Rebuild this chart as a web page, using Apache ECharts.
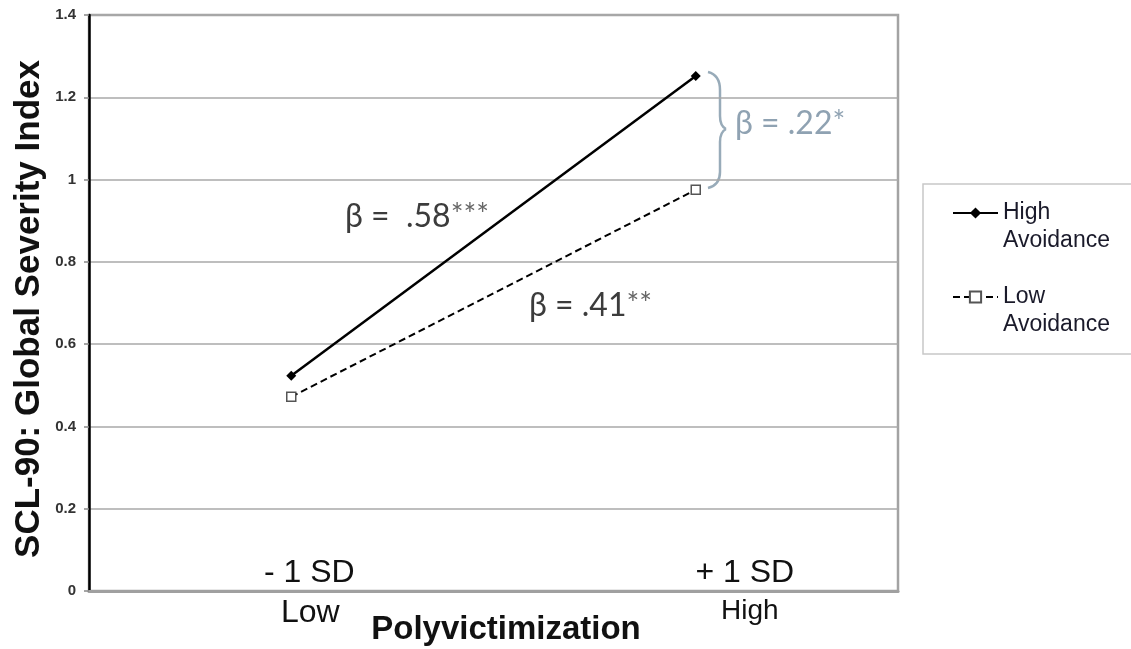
<!DOCTYPE html>
<html>
<head>
<meta charset="utf-8">
<script src="https://cdn.jsdelivr.net/npm/echarts@6/dist/echarts.min.js"></script>
<style>
html, body { margin: 0; padding: 0; background: #fff; }
#chart { width: 1131px; height: 649px; }
</style>
</head>
<body>
<div id="chart"></div>
<script>
// data
const levels = ['Low', 'High'];
const sdLabels = ['- 1 SD', '+ 1 SD'];
const highAvoidance = [0.523, 1.252];
const lowAvoidance = [0.472, 0.975];
const seriesNames = ['High Avoidance', 'Low Avoidance'];
const slopeTexts = ['.58', '.41', '.22'];
const slopeStars = ['***', '**', '*'];

const chart = echarts.init(document.getElementById('chart'));
const font = '"Liberation Sans", Arial, sans-serif';
const betaFont = 'Lato, "Open Sans", sans-serif';
const braceStyle = {fill: null, stroke: '#98abb9', lineWidth: 2.5};

function betaText(left, top, i, color, starColor) {
    return {
        type: 'text',
        left: left,
        top: top,
        style: {
            text: `{b|β = ${i === 0 ? ' ' : ''}${slopeTexts[i]}}{s|${slopeStars[i]}}`,
            rich: {
                b: {fontFamily: betaFont, fontSize: 32, fill: color},
                s: {fontFamily: betaFont, fontSize: 30, fill: starColor, padding: [0, 0, 4, 0]},
            },
        },
    };
}

chart.setOption({
    animation: false,
    grid: {
        left: 89,
        right: 233,
        top: 15,
        bottom: 58,
        outerBoundsMode: 'none',
        show: true,
        borderColor: '#a3a3a3',
        borderWidth: 2.5,
    },
    legend: {
        data: seriesNames,
        orient: 'vertical',
        left: 952,
        top: 171,
        padding: 0,
        itemGap: 0,
        itemWidth: 45,
        itemHeight: 14,
        selectedMode: false,
        // blank first line so the marker sits beside the first word
        formatter: (name) => '\u00a0\n' + name.replace(' ', '\n'),
        textStyle: {
            fontFamily: font,
            fontSize: 23,
            lineHeight: 28,
            color: '#1a1a2a',
        },
    },
    xAxis: [
        {
            type: 'category',
            data: levels,
            position: 'bottom',
            axisLine: {lineStyle: {color: '#a0a0a0', width: 3}},
            axisTick: {show: false},
            axisLabel: {
                margin: 6,
                formatter: (v, i) => `{c${i}|${v}}`,
                rich: {
                    c0: {fontFamily: font, fontSize: 32, color: '#111', padding: [0, 0, 0, 38]},
                    c1: {fontFamily: font, fontSize: 28, color: '#111', padding: [0, 0, 8, 108]},
                },
            },
            name: 'Polyvictimization',
            nameLocation: 'middle',
            nameGap: 22,
            nameMoveOverlap: false,
            nameTextStyle: {
                fontFamily: font,
                fontSize: 33,
                fontWeight: 'bold',
                color: '#111',
                padding: [0, 0, 0, 25],
            },
        },
        {
            type: 'category',
            data: sdLabels,
            position: 'bottom',
            axisLine: {show: false},
            axisTick: {show: false},
            axisLabel: {
                inside: true,
                margin: 2,
                formatter: (v, i) => `{s${i}|${v}}`,
                rich: {
                    s0: {fontFamily: font, fontSize: 32, color: '#111', padding: [0, 0, 0, 36]},
                    s1: {fontFamily: font, fontSize: 32, color: '#111', padding: [0, 0, 0, 98]},
                },
            },
        },
    ],
    yAxis: {
        type: 'value',
        min: 0,
        max: 1.4,
        interval: 0.2,
        axisLine: {show: true, lineStyle: {color: '#000', width: 2.5}},
        axisTick: {show: true, length: 5, lineStyle: {color: '#888', width: 1.5}},
        axisLabel: {
            fontFamily: font,
            fontSize: 15,
            fontWeight: 'bold',
            color: '#333',
            margin: 13,
        },
        splitLine: {lineStyle: {color: '#a8a8a8', width: 1.5}},
        name: 'SCL-90: Global Severity Index',
        nameLocation: 'middle',
        nameGap: 42,
        nameMoveOverlap: false,
        nameTextStyle: {
            fontFamily: font,
            fontSize: 35,
            fontWeight: 'bold',
            color: '#111',
            padding: [0, 12, 0, 0],
        },
    },
    series: [
        {
            name: seriesNames[0],
            type: 'line',
            data: highAvoidance,
            symbol: 'diamond',
            symbolSize: 10,
            itemStyle: {color: '#000'},
            lineStyle: {color: '#000', width: 2.5},
        },
        {
            name: seriesNames[1],
            type: 'line',
            data: lowAvoidance,
            symbol: 'rect',
            symbolSize: 9,
            itemStyle: {color: '#fff', borderColor: '#555', borderWidth: 1.5},
            lineStyle: {color: '#000', width: 2, type: [7, 4]},
            z: 1,
        },
    ],
    graphic: [
        // legend frame
        {
            type: 'rect',
            shape: {x: 923, y: 184, width: 220, height: 170},
            style: {fill: null, stroke: '#c8c8c8', lineWidth: 1.5},
        },
        betaText(345, 200, 0, '#3c3c3c', '#666'),
        betaText(529, 289, 1, '#3c3c3c', '#666'),
        betaText(735, 107, 2, '#8fa2b2', '#8fa2b2'),
        // curly brace between the two +1 SD points
        {type: 'bezierCurve', shape: {x1: 708, y1: 72, cpx1: 716, cpy1: 74, cpx2: 720, cpy2: 80, x2: 720, y2: 90}, style: braceStyle},
        {type: 'line', shape: {x1: 720, y1: 90, x2: 720, y2: 116}, style: braceStyle},
        {type: 'bezierCurve', shape: {x1: 720, y1: 116, cpx1: 720, cpy1: 123, cpx2: 722, cpy2: 127, x2: 726, y2: 129}, style: braceStyle},
        {type: 'bezierCurve', shape: {x1: 726, y1: 129, cpx1: 722, cpy1: 131, cpx2: 720, cpy2: 135, x2: 720, y2: 142}, style: braceStyle},
        {type: 'line', shape: {x1: 720, y1: 142, x2: 720, y2: 172}, style: braceStyle},
        {type: 'bezierCurve', shape: {x1: 720, y1: 172, cpx1: 720, cpy1: 181, cpx2: 716, cpy2: 186, x2: 708, y2: 188}, style: braceStyle},
    ],
});
</script>
</body>
</html>
